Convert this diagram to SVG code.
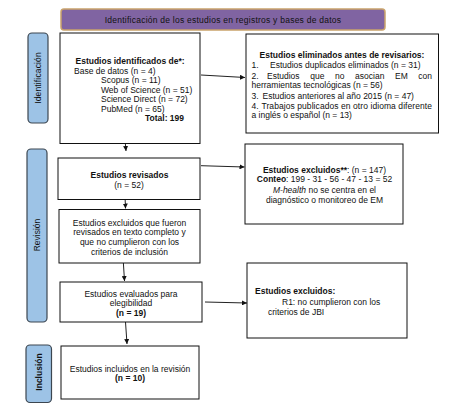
<svg xmlns="http://www.w3.org/2000/svg" width="474" height="404" viewBox="0 0 474 404">
<style>
text{font-family:"Liberation Sans",Arial,sans-serif;font-size:8.5px;fill:#111}
.b{font-weight:bold}
.c{text-anchor:middle}
.box{fill:#fff;stroke:#111;stroke-width:1}
.side{fill:#9dc3e6;stroke:#3c4650;stroke-width:1.2}
.ban{fill:#8064a2;stroke:#c9a26b;stroke-width:1.5}
.con{stroke:#222;stroke-width:1;fill:none;marker-end:url(#ah)}
</style>
<defs>
<marker id="ah" viewBox="0 0 10 10" refX="10" refY="5" markerWidth="5" markerHeight="5" orient="auto" markerUnits="userSpaceOnUse">
<path d="M0,0 L10,5 L0,10 z" fill="#111"/>
</marker>
</defs>
<rect width="474" height="404" fill="#fff"/>
<g id="banner">
<rect class="ban" x="61" y="9" width="324" height="21" rx="3"/>
<text class="c" x="223" y="23" letter-spacing="0.24">Identificación de los estudios en registros y bases de datos</text>
</g>
<g id="side-identificacion">
<rect class="side" x="28" y="33" width="20" height="90" rx="4"/>
<text class="c" transform="translate(41,78) rotate(-90)" letter-spacing="0.15">Identificación</text>
</g>
<g id="side-revision">
<rect class="side" x="27" y="149" width="20" height="173" rx="4"/>
<text class="c" transform="translate(40,235) rotate(-90)">Revisión</text>
</g>
<g id="side-inclusion">
<rect class="side" x="26" y="345" width="25.5" height="57.5" rx="4"/>
<text class="c b" transform="translate(41.5,372) rotate(-90)">Inclusión</text>
</g>
<g id="connectors">
<path class="con" d="M201,75 L245,77.5"/>
<path class="con" d="M201,165.7 L244.5,167"/>
<path class="con" d="M205,302 L247,303"/>
<path class="con" d="M124,128 L126,151"/>
<path class="con" d="M124.5,183 L125.5,208.5"/>
<path class="con" d="M123,257 L124.5,281"/>
<path class="con" d="M125.5,322 L127,344"/>
</g>
<g id="identificados">
<rect class="box" x="60" y="33" width="140" height="110.5"/>
<text class="b" x="75.5" y="64">Estudios identificados de*:</text>
<text x="74" y="73.5">Base de datos (n = 4)</text>
<text x="101" y="83">Scopus (n = 11)</text>
<text x="101" y="92.5">Web of Science (n = 51)</text>
<text x="101" y="102">Science Direct (n = 72)</text>
<text x="101" y="111.5">PubMed (n = 65)</text>
<text class="b" x="145" y="121">Total: 199</text>
</g>
<g id="eliminados">
<rect class="box" x="246" y="34" width="192.5" height="99"/>
<text class="b c" x="342" y="58">Estudios eliminados antes de revisarios:</text>
<text y="67.5"><tspan x="251.5">1.</tspan><tspan x="270">Estudios duplicados eliminados (n = 31)</tspan></text>
<text y="78.5"><tspan x="251.5">2.</tspan><tspan x="267">Estudios</tspan><tspan x="310.2">que</tspan><tspan x="335">no</tspan><tspan x="355.1">asocian</tspan><tspan x="395">EM</tspan><tspan x="432" text-anchor="end">con</tspan></text>
<text x="251.5" y="88">herramientas tecnológicas (n = 56)</text>
<text y="98.5"><tspan x="251.5">3.</tspan><tspan x="262.5">Estudios anteriores al año 2015 (n = 47)</tspan></text>
<text y="108.5"><tspan x="251.5">4.</tspan><tspan x="261.5" textLength="170.5" lengthAdjust="spacing">Trabajos publicados en otro idioma diferente</tspan></text>
<text x="251.5" y="118">a inglés o español (n = 13)</text>
</g>
<g id="revisados">
<rect class="box" x="58" y="158" width="142" height="41.5"/>
<text class="b c" x="129.5" y="178">Estudios revisados</text>
<text class="c" x="129" y="187.5">(n = 52)</text>
</g>
<g id="excluidos1">
<rect class="box" x="245" y="144" width="158" height="80"/>
<text class="c" x="324.5" y="173"><tspan class="b">Estudios excluidos**</tspan>: (n = 147)</text>
<text class="c" x="324.5" y="182"><tspan class="b">Conteo</tspan>: 199 - 31 - 56 - 47 - 13 = 52</text>
<text class="c" x="324.5" y="192.5"><tspan font-style="italic">M-health</tspan> no se centra en el</text>
<text class="c" x="324.5" y="203">diagnóstico o monitoreo de EM</text>
</g>
<g id="excluidos-texto">
<rect class="box" x="59" y="209.5" width="141" height="53.5"/>
<text class="c" x="129.5" y="225.5">Estudios excluidos que fueron</text>
<text class="c" x="129.5" y="235">revisados en texto completo y</text>
<text class="c" x="129.5" y="245">que no cumplieron con los</text>
<text class="c" x="129.5" y="255">criterios de inclusión</text>
</g>
<g id="evaluados">
<rect class="box" x="60" y="282" width="142" height="40"/>
<text class="c" x="131" y="296.5">Estudios evaluados para</text>
<text class="c" x="131" y="305.5">elegibilidad</text>
<text class="c b" x="131" y="315.5">(n = 19)</text>
</g>
<g id="excluidos2">
<rect class="box" x="247" y="263" width="160" height="75"/>
<text class="b" x="255" y="294">Estudios excluidos:</text>
<text x="282" y="304.5">R1: no cumplieron con los</text>
<text x="268" y="315">criterios de JBI</text>
</g>
<g id="incluidos">
<rect class="box" x="61" y="346" width="138" height="53"/>
<text class="c" x="130" y="371.5">Estudios incluidos en la revisión</text>
<text class="c b" x="130" y="381">(n = 10)</text>
</g>
</svg>
